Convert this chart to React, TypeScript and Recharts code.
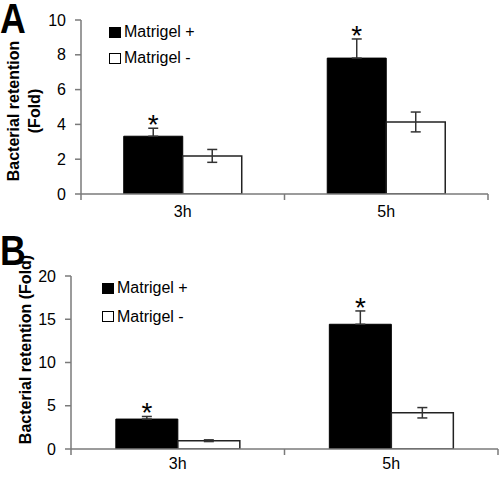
import React from 'react';
import { BarChart, Bar, XAxis, YAxis, ErrorBar, LabelList, Legend, Label } from 'recharts';

const categories = ['3h', '5h'];
const seriesNames = ['Matrigel +', 'Matrigel -'];
const panelLetters = ['A', 'B'];

const aPlus = [3.32, 7.81];
const aPlusErr = [0.46, 1.1];
const aMinus = [2.19, 4.14];
const aMinusErr = [0.37, 0.57];
const aTicks = [0, 2, 4, 6, 8, 10];

const bPlus = [3.46, 14.42];
const bPlusErr = [0.3, 1.54];
const bMinus = [0.96, 4.19];
const bMinusErr = [0.1, 0.6];
const bTicks = [0, 5, 10, 15, 20];

const FONT = '"Liberation Sans", Arial, sans-serif';
const AXIS = '#7a7a7a';

type Row = { cat: string; plus: number; plusErr: number[]; plusUp: number; minus: number; minusErr: number };

const build = (plus: number[], plusErr: number[], minus: number[], minusErr: number[]): Row[] =>
  categories.map((c, i) => ({
    cat: c,
    plus: plus[i],
    plusErr: [0, plusErr[i]],
    plusUp: plusErr[i],
    minus: minus[i],
    minusErr: minusErr[i],
  }));

const dataA = build(aPlus, aPlusErr, aMinus, aMinusErr);
const dataB = build(bPlus, bPlusErr, bMinus, bMinusErr);

const makeStar = (data: Row[]) => (props: any) => {
  const vb = props.viewBox && props.viewBox.width != null ? props.viewBox : props;
  const { x, y, width, height } = vb;
  const d = data[props.index];
  if (!d) return null;
  const errPx = (height * d.plusUp) / d.plus;
  return (
    <text x={x + width / 2} y={y - errPx + 6} textAnchor="middle" fontSize={28} fill="#000" fontFamily={FONT}>
      *
    </text>
  );
};

const CatTick = (props: any) => {
  const { x, y, payload, index, visibleTicksCount, width } = props;
  const half = payload && payload.offset ? payload.offset : width / visibleTicksCount / 2;
  return (
    <g>
      <line x1={x - half} x2={x - half} y1={y} y2={y + 6} stroke={AXIS} strokeWidth={1.5} />
      {index === visibleTicksCount - 1 && (
        <line x1={x + half} x2={x + half} y1={y} y2={y + 6} stroke={AXIS} strokeWidth={1.5} />
      )}
      <text x={x} y={y + props.labelGap} dy="0.71em" textAnchor="middle" fontSize={16} fill="#000" fontFamily={FONT}>
        {payload.value}
      </text>
    </g>
  );
};

const LegendBox = ({ rowH }: { rowH: number }) => (
  <div style={{ fontFamily: FONT, fontSize: 16, color: '#000' }}>
    {seriesNames.map((n, i) => (
      <div key={n} style={{ display: 'flex', alignItems: 'center', height: rowH, whiteSpace: 'nowrap' }}>
        <span
          style={{
            display: 'inline-block',
            width: 12,
            height: 11,
            background: i === 0 ? '#000' : '#fff',
            border: '1.5px solid #000',
            boxSizing: 'border-box',
            marginRight: 3,
          }}
        />
        {n}
      </div>
    ))}
  </div>
);

const TitleA = (props: any) => {
  const vb = props.viewBox;
  const cy = vb.y + vb.height / 2 + 4;
  return (
    <text transform={`rotate(-90, 0, ${cy})`} x={0} y={cy} textAnchor="middle" fontSize={16} fontWeight="bold" fill="#000" fontFamily={FONT}>
      <tspan x={0} dy={18.5}>Bacterial retention</tspan>
      <tspan x={0} dy={21}>(Fold)</tspan>
    </text>
  );
};

const TitleB = (props: any) => {
  const vb = props.viewBox;
  const cy = vb.y + vb.height / 2 - 13;
  return (
    <text transform={`rotate(-90, 25, ${cy})`} x={25} y={cy} dy={5.5} textAnchor="middle" fontSize={16} fontWeight="bold" fill="#000" fontFamily={FONT}>
      Bacterial retention (Fold)
    </text>
  );
};

const tickStyle = { fontSize: 16, fill: '#000', fontFamily: FONT };

export default function App() {
  return (
    <div style={{ position: 'absolute', left: 0, top: 0, width: 500, height: 480, background: '#fff', fontFamily: FONT }}>
      <div style={{ position: 'absolute', left: 0, top: 0 }}>
        <BarChart width={500} height={240} data={dataA} margin={{ top: 20, right: 12, left: 0, bottom: 0 }} barCategoryGap="21%" barGap={0}>
          <XAxis dataKey="cat" height={46} axisLine={{ stroke: AXIS, strokeWidth: 1.5 }} tickLine={false} tickSize={0} tickMargin={0} tick={<CatTick labelGap={12} />} interval={0} />
          <YAxis width={81} domain={[0, 10]} ticks={aTicks} axisLine={{ stroke: AXIS, strokeWidth: 1.5 }} tickLine={{ stroke: AXIS, strokeWidth: 1.5 }} tickSize={6} tickMargin={9} tick={tickStyle} allowDataOverflow>
            <Label content={<TitleA />} />
          </YAxis>
          <Legend layout="horizontal" align="center" verticalAlign="middle" wrapperStyle={{ left: 109, top: 19, width: 'auto', height: 'auto' }} content={() => <LegendBox rowH={26} />} />
          <Bar dataKey="plus" fill="#000" stroke="#000" strokeWidth={1} isAnimationActive={false}>
            <ErrorBar dataKey="plusErr" width={5} stroke="#333" strokeWidth={1.5} direction="y" />
            <LabelList dataKey="plus" content={makeStar(dataA)} />
          </Bar>
          <Bar dataKey="minus" fill="#fff" stroke="#222" strokeWidth={1.5} isAnimationActive={false}>
            <ErrorBar dataKey="minusErr" width={5} stroke="#333" strokeWidth={1.5} direction="y" />
          </Bar>
        </BarChart>
      </div>

      <div style={{ position: 'absolute', left: 0, top: 240 }}>
        <BarChart width={500} height={240} data={dataB} margin={{ top: 36, right: 2, left: 0, bottom: 0 }} barCategoryGap="21%" barGap={0}>
          <XAxis dataKey="cat" height={31} axisLine={{ stroke: AXIS, strokeWidth: 1.5 }} tickLine={false} tickSize={0} tickMargin={0} tick={<CatTick labelGap={9} />} interval={0} />
          <YAxis width={71} domain={[0, 20]} ticks={bTicks} axisLine={{ stroke: AXIS, strokeWidth: 1.5 }} tickLine={{ stroke: AXIS, strokeWidth: 1.5 }} tickSize={6} tickMargin={9} tick={tickStyle} allowDataOverflow>
            <Label content={<TitleB />} />
          </YAxis>
          <Legend layout="horizontal" align="center" verticalAlign="middle" wrapperStyle={{ left: 102, top: 34, width: 'auto', height: 'auto' }} content={() => <LegendBox rowH={28.5} />} />
          <Bar dataKey="plus" fill="#000" stroke="#000" strokeWidth={1} isAnimationActive={false}>
            <ErrorBar dataKey="plusErr" width={5} stroke="#333" strokeWidth={1.5} direction="y" />
            <LabelList dataKey="plus" content={makeStar(dataB)} />
          </Bar>
          <Bar dataKey="minus" fill="#fff" stroke="#222" strokeWidth={1.5} isAnimationActive={false}>
            <ErrorBar dataKey="minusErr" width={5} stroke="#333" strokeWidth={1.5} direction="y" />
          </Bar>
        </BarChart>
      </div>

      <svg width={500} height={480} style={{ position: 'absolute', left: 0, top: 0, pointerEvents: 'none' }}>
        <text transform="translate(0,33) scale(0.85,1)" x={0} y={0} fontSize={42} fontWeight="bold" fill="#000" fontFamily={FONT}>
          {panelLetters[0]}
        </text>
        <text transform="translate(0,265) scale(0.85,1)" x={0} y={0} fontSize={42} fontWeight="bold" fill="#000" fontFamily={FONT}>
          {panelLetters[1]}
        </text>
      </svg>
    </div>
  );
}
